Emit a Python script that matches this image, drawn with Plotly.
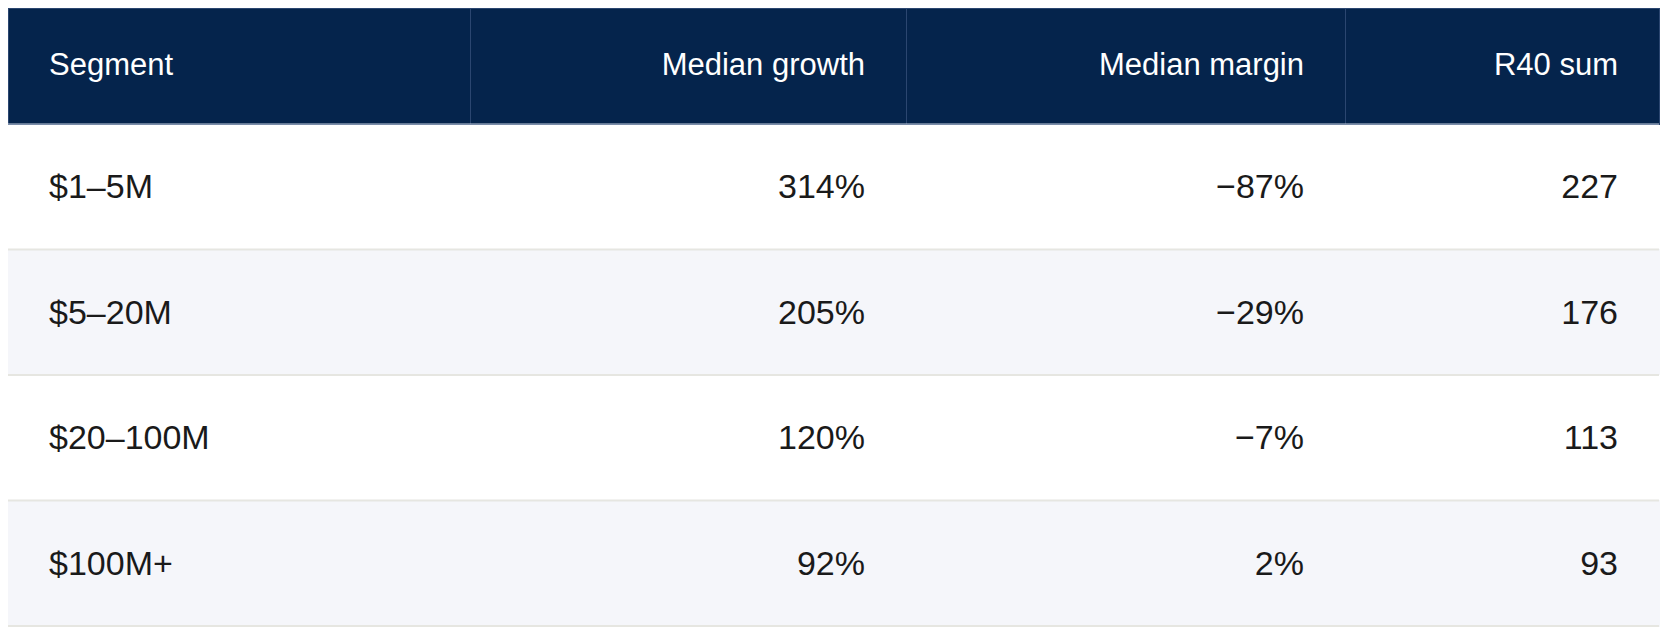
import plotly.graph_objects as go

# ---- data ----
headers = ["Segment", "Median growth", "Median margin", "R40 sum"]
segments = ["$1–5M", "$5–20M", "$20–100M", "$100M+"]
median_growth = [314, 205, 120, 92]
median_margin = [-87, -29, -7, 2]
r40_sum = [227, 176, 113, 93]

def pct(v):
    return ("−" if v < 0 else "") + f"{abs(v)}%"

col_segment = segments
col_growth = [pct(v) for v in median_growth]
col_margin = [pct(v) for v in median_margin]
col_r40 = [str(v) for v in r40_sum]

# ---- style ----
W, H = 1656, 620
ML, MR, MT, MB = 0, 5, 0, 0
HEADER_H = 116
ROW_H = 125.5
NAVY = "#05244c"
ROW_FILLS = ["#ffffff", "#f5f6fa"]
RULE = "#e6e6e1"
FONT = "Liberation Sans, Arial, sans-serif"
HEAD_SIZE, BODY_SIZE = 31, 34
HEAD_SPACER, BODY_SPACER = 26.6, 30.1   # size of the invisible first line (vertical centering)
PAD = "<span style='font-size:33px'>\u2003</span>"

def cell_html(text, size):
    # invisible first line pushes the text down; em spaces give the side padding
    return f"\u00a0<br>{PAD}<span style='font-size:{size}px'>{text}</span>{PAD}"

n = len(segments)
fills = [ROW_FILLS[i % 2] for i in range(n)]
aligns = ["left", "right", "right", "right"]

fig = go.Figure(go.Table(
    columnwidth=[462, 436, 439, 314],
    header=dict(
        values=[cell_html(h, HEAD_SIZE) for h in headers],
        fill_color=NAVY,
        line=dict(color="#2b4670", width=1),
        align=aligns,
        font=dict(family=FONT, size=HEAD_SPACER, color="white"),
        height=HEADER_H,
    ),
    cells=dict(
        values=[[cell_html(t, BODY_SIZE) for t in col]
                for col in (col_segment, col_growth, col_margin, col_r40)],
        fill_color=[fills],
        line=dict(color=[fills], width=1),
        align=aligns,
        font=dict(family=FONT, size=BODY_SPACER, color="#1a1a1a"),
        height=ROW_H,
    ),
    domain=dict(x=[0, 1], y=[0, 1]),
))

plot_h = H - MT - MB
shapes = []
for i in range(1, n + 1):
    ypx = HEADER_H + i * ROW_H
    yp = 1 - ypx / plot_h
    shapes.append(dict(type="line", xref="paper", yref="paper", x0=0, x1=1, y0=yp, y1=yp,
                       line=dict(color=RULE, width=2), layer="above"))
# light rule under the header
yh = 1 - HEADER_H / plot_h
shapes.append(dict(type="line", xref="paper", yref="paper", x0=0, x1=1, y0=yh, y1=yh,
                   line=dict(color="#c9d2e2", width=1), layer="above"))

fig.update_layout(
    width=W, height=H,
    margin=dict(l=ML, r=MR, t=MT, b=MB),
    paper_bgcolor="white",
    shapes=shapes,
)
fig.write_html("out.html")
